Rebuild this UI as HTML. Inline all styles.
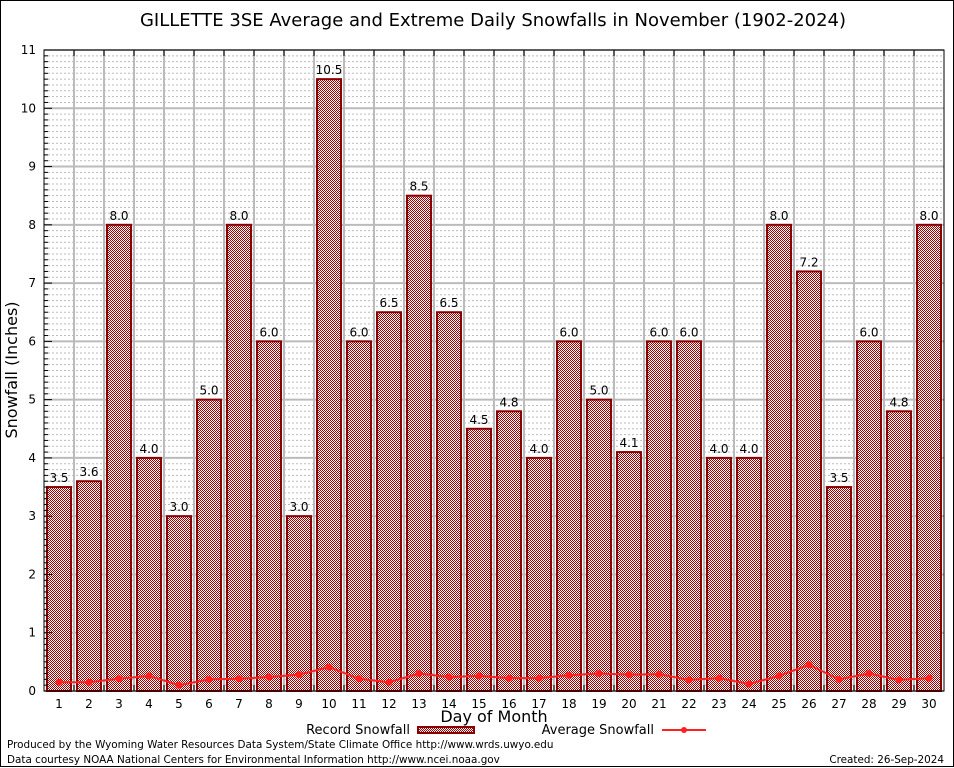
<!DOCTYPE html>
<html><head><meta charset="utf-8"><style>
html,body{margin:0;padding:0;background:#fff}
svg{display:block}
text{font-family:"DejaVu Sans","Liberation Sans",sans-serif}
</style></head><body>
<svg id="chart" width="954" height="768" viewBox="0 0 954 768">
<defs>
<pattern id="chk" width="2" height="2" patternUnits="userSpaceOnUse">
<rect width="2" height="2" fill="#fff"/><rect width="1" height="1" fill="#a00000"/><rect x="1" y="1" width="1" height="1" fill="#a00000"/>
</pattern>
</defs>
<rect x="0.5" y="0.5" width="953" height="766" fill="#fff" stroke="#000"/>
<text x="493" y="26" text-anchor="middle" font-size="18">GILLETTE 3SE Average and Extreme Daily Snowfalls in November (1902-2024)</text>
<g id="grid"></g>
<g id="bars"></g>
<g id="avg"></g>
<g id="axes"></g>
<text transform="translate(17,370) rotate(-90)" text-anchor="middle" font-size="16">Snowfall (Inches)</text>
<text x="494" y="722" text-anchor="middle" font-size="16">Day of Month</text>
<g>
<text x="410" y="734" text-anchor="end" font-size="13">Record Snowfall</text>
<rect x="418" y="727" width="56" height="6" fill="url(#chk)" stroke="#8b0000" stroke-width="2"/>
<text x="654" y="734" text-anchor="end" font-size="13">Average Snowfall</text>
<line x1="662" y1="730" x2="706" y2="730" stroke="#ff2020" stroke-width="2"/>
<circle cx="684" cy="730" r="3" fill="#ff2020"/>
</g>
<text x="7" y="748" font-size="10.4">Produced by the Wyoming Water Resources Data System/State Climate Office http://www.wrds.uwyo.edu</text>
<text x="7" y="763" font-size="10.4">Data courtesy NOAA National Centers for Environmental Information http://www.ncei.noaa.gov</text>
<text x="944" y="763" text-anchor="end" font-size="10.4">Created: 26-Sep-2024</text>
</svg>
<script>
const days = [1,2,3,4,5,6,7,8,9,10,11,12,13,14,15,16,17,18,19,20,21,22,23,24,25,26,27,28,29,30];
const recordSnow = [3.5,3.6,8.0,4.0,3.0,5.0,8.0,6.0,3.0,10.5,6.0,6.5,8.5,6.5,4.5,4.8,4.0,6.0,5.0,4.1,6.0,6.0,4.0,4.0,8.0,7.2,3.5,6.0,4.8,8.0];
const avgSnow = [0.15,0.15,0.21,0.26,0.10,0.20,0.21,0.24,0.28,0.41,0.21,0.15,0.30,0.24,0.26,0.22,0.22,0.27,0.30,0.28,0.29,0.19,0.22,0.12,0.26,0.45,0.20,0.30,0.19,0.22];
const yTicks = [0,1,2,3,4,5,6,7,8,9,10,11];

const L=44,R=944,T=50,B=691,yMax=11;
const NS='http://www.w3.org/2000/svg';
const xs=d=>L+(R-L)/days.length*(d-0.5);
const ys=v=>B-(B-T)*v/yMax;
function mk(tag,attrs,parent){const e=document.createElementNS(NS,tag);for(const k in attrs)e.setAttribute(k,attrs[k]);parent.appendChild(e);return e;}
const grid=document.getElementById('grid'),bars=document.getElementById('bars'),avg=document.getElementById('avg'),axes=document.getElementById('axes');
const step=(R-L)/days.length;
for(let i=1;i<yMax*10;i++){if(i%10===0)continue;const y=ys(i/10);
const g=mk('line',{x1:L,x2:R,y1:y,y2:y,stroke:'#bbb','stroke-width':1,'stroke-dasharray':'2,2'},grid);

}
yTicks.forEach(t=>{const y=ys(t);
const g=mk('line',{x1:L,x2:R,y1:y,y2:y,stroke:'#bbb','stroke-width':2},grid);


const tl=mk('text',{x:36,y:y+4,'text-anchor':'end','font-size':12,'font-family':'Liberation Serif,serif'},axes);tl.textContent=t;

});
for(let i=1;i<days.length;i++){const x=L+step*i;
const g=mk('line',{x1:x,x2:x,y1:T,y2:B,stroke:'#bbb','stroke-width':2},grid);


const tk=mk('line',{x1:x,x2:x,y1:B,y2:B-6,stroke:'#000'},axes);


const tk2=mk('line',{x1:x,x2:x,y1:T,y2:T+6,stroke:'#000'},axes);

}
days.forEach((d,i)=>{const cx=xs(d),v=recordSnow[i],y=ys(v),w=24;
const r=mk('rect',{x:cx-w/2,y:y,width:w,height:B-y,fill:'url(#chk)',stroke:'#8b0000','stroke-width':2},bars);


const lb=mk('text',{x:cx,y:y-5,'text-anchor':'middle','font-size':12},bars);lb.textContent=v.toFixed(1);


const xl=mk('text',{x:cx,y:B+17,'text-anchor':'middle','font-size':12,'font-family':'Liberation Serif,serif'},axes);xl.textContent=d;

});
const pl=mk('polyline',{points:days.map((d,i)=>xs(d)+','+ys(avgSnow[i])).join(' '),fill:'none',stroke:'#ff2020','stroke-width':2},avg);


days.forEach((d,i)=>{const c=mk('circle',{cx:xs(d),cy:ys(avgSnow[i]),r:3.5,fill:'#ff2020'},avg);

});
for(let i=1;i<yMax*10;i++){if(i%10===0)continue;const y=ys(i/10);
const t=mk('line',{x1:L,x2:L+4,y1:y,y2:y,stroke:'#000'},axes);

}
yTicks.forEach(t=>{const y=ys(t);const tk=mk('line',{x1:L,x2:L+8,y1:y,y2:y,stroke:'#000'},axes);

});
const fr=mk('rect',{x:L,y:T,width:R-L,height:B-T,fill:'none',stroke:'#000','stroke-width':1},axes);


</script>
</body></html>
